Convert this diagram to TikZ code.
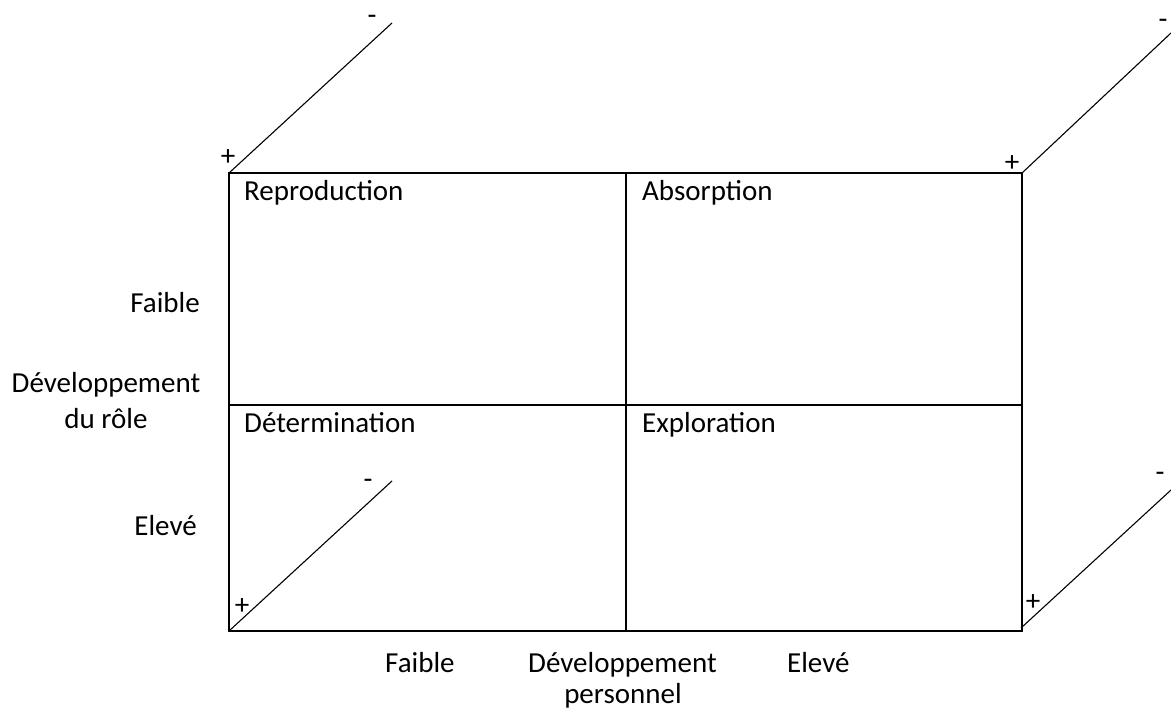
\documentclass[tikz,border=0pt]{standalone}
\usepackage{fontspec}
\setmainfont{Carlito}
\begin{document}
\begin{tikzpicture}[x=1pt,y=-1pt,
  lbl/.style={inner sep=0pt,font=\fontsize{29}{35}\selectfont},
  frame/.style={line width=2pt,line cap=rect},
  diag/.style={line width=1.1pt}]
\useasboundingbox (0,0) rectangle (1171,711);
% corners
\coordinate (TL) at (229,173);
\coordinate (TR) at (1022,173);
\coordinate (BL) at (229,631);
\coordinate (BR) at (1022,631);
\coordinate (TM) at (626,173);
\coordinate (BM) at (626,631);
\coordinate (ML) at (229,405);
\coordinate (MR) at (1022,405);
% diagonal ends
\coordinate (TLe) at (392,23);
\coordinate (TRe) at (1171,33);
\coordinate (BLe) at (392,481);
\coordinate (BRs) at (1021,628);
\coordinate (BRe) at (1171,490);
% frame
\draw[frame] (TL) rectangle (BR);
\draw[frame] (TM) -- (BM);
\draw[frame] (ML) -- (MR);
% diagonals
\draw[diag] (TL) -- (TLe);
\draw[diag] (TR) -- (TRe);
\draw[diag] (BL) -- (BLe);
\draw[diag] (BRs) -- (BRe);
% plus / minus
\node[lbl,anchor=base] (p1) at (228,166) {+};
\node[lbl,anchor=base] (m1) at (372,25) {-};
\node[lbl,anchor=base] (p2) at (1012,172) {+};
\node[lbl,anchor=base] (m2) at (1163,29) {-};
\node[lbl,anchor=base] (p3) at (242,614) {+};
\node[lbl,anchor=base] (m3) at (368,489) {-};
\node[lbl,anchor=base] (p4) at (1033,610) {+};
\node[lbl,anchor=base] (m4) at (1160,482) {-};
% quadrant labels
\node[lbl,anchor=base west] (q1) at (244,201) {Reproduction};
\node[lbl,anchor=base west] (q2) at (642,201) {Absorption};
\node[lbl,anchor=base west] (q3) at (244,432) {Détermination};
\node[lbl,anchor=base west] (q4) at (642,432) {Exploration};
% left axis
\node[lbl,anchor=base east] (lf) at (200,313) {Faible};
\node[lbl,anchor=base] (ld1) at (106,393) {Développement};
\node[lbl,anchor=base] (ld2) at (106,429) {du rôle};
\node[lbl,anchor=base east] (le) at (197,535) {Elevé};
% bottom axis
\node[lbl,anchor=base west] (bf) at (385,672) {Faible};
\node[lbl,anchor=base west] (bd1) at (528,672) {Développement};
\node[lbl,anchor=base west] (be) at (787,672) {Elevé};
\node[lbl,anchor=base] (bd2) at (623,703) {personnel};
\end{tikzpicture}
\end{document}
